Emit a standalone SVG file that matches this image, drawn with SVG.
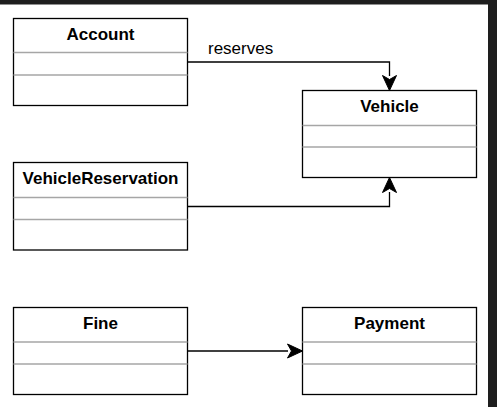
<svg xmlns="http://www.w3.org/2000/svg" width="497" height="407" viewBox="0 0 497 407">
<style>
.box{fill:#fff;stroke:#000;stroke-width:1.3}
.div{stroke:#a6a6a6;stroke-width:1.3}
.title{font-family:"Liberation Sans",Arial,sans-serif;font-weight:bold;font-size:17px;text-anchor:middle;fill:#000}
.lbl{font-family:"Liberation Sans",Arial,sans-serif;font-size:17px;fill:#000}
.edge{fill:none;stroke:#000;stroke-width:1.3}
.head{fill:#000;stroke:#000;stroke-width:1}
.bg{font-family:"Liberation Sans",Arial,sans-serif;font-size:17px;fill:#9a9a9a}
</style>
<rect x="0" y="0" width="497" height="407" fill="#1e1e1e"/>
<rect x="0" y="4.5" width="488" height="402.5" fill="#fff"/>
<g id="connectors">
<path class="edge" d="M187.5 62 H389.5 V76"/>
<path class="head" d="M389.5 90.5 L382.5 75.5 L389.5 79.5 L396.5 75.5 Z"/>
<text class="lbl" x="208" y="53.5">reserves</text>
<path class="edge" d="M187.5 206.5 H389.5 V192"/>
<path class="head" d="M389.5 177.5 L382.5 192.5 L389.5 188.5 L396.5 192.5 Z"/>
<path class="edge" d="M187.5 351 H288"/>
<path class="head" d="M302.5 351 L287.5 344 L291.5 351 L287.5 358 Z"/>
</g>
<g id="Account">
<rect class="box" x="13.5" y="18.5" width="174" height="87"/>
<line class="div" x1="13.5" y1="52.5" x2="187.5" y2="52.5"/>
<line class="div" x1="13.5" y1="75" x2="187.5" y2="75"/>
<text class="title" x="100.5" y="39.5">Account</text>
</g>
<g id="Vehicle">
<rect class="box" x="302.5" y="90.5" width="174" height="87"/>
<line class="div" x1="302.5" y1="125.5" x2="476.5" y2="125.5"/>
<line class="div" x1="302.5" y1="147" x2="476.5" y2="147"/>
<text class="title" x="389.5" y="111.5">Vehicle</text>
</g>
<g id="VehicleReservation">
<rect class="box" x="13.5" y="162.5" width="174" height="87.5"/>
<line class="div" x1="13.5" y1="197.5" x2="187.5" y2="197.5"/>
<line class="div" x1="13.5" y1="219.5" x2="187.5" y2="219.5"/>
<text class="title" x="100.5" y="184">VehicleReservation</text>
</g>
<g id="Fine">
<rect class="box" x="13.5" y="307.5" width="174" height="87"/>
<line class="div" x1="13.5" y1="342" x2="187.5" y2="342"/>
<line class="div" x1="13.5" y1="364" x2="187.5" y2="364"/>
<text class="title" x="100.5" y="328.5">Fine</text>
</g>
<g id="Payment">
<rect class="box" x="302.5" y="307.5" width="174" height="87"/>
<line class="div" x1="302.5" y1="342" x2="476.5" y2="342"/>
<line class="div" x1="302.5" y1="364" x2="476.5" y2="364"/>
<text class="title" x="389.5" y="328.5">Payment</text>
</g>
</svg>
